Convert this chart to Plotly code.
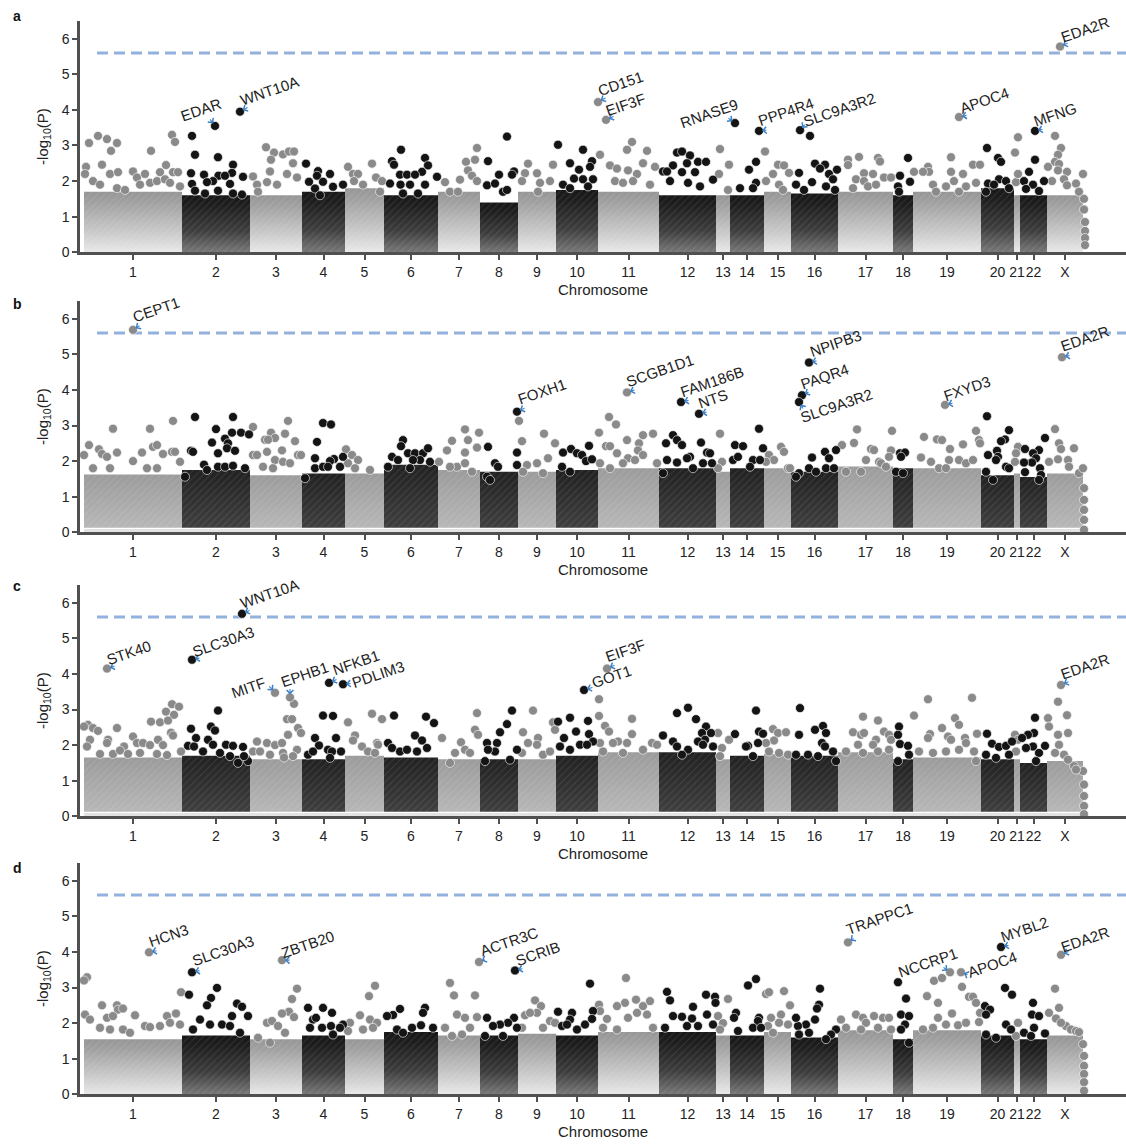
import bisect
import plotly.graph_objects as go

# ---------------------------------------------------------------- data
CHROMS = [str(i) for i in range(1, 23)] + ["X"]
GENES_PER_CHROM = [1960, 1360, 1040, 860, 780, 1080, 840, 760, 760, 840, 1220, 1140,
                   280, 680, 540, 940, 1100, 400, 1360, 660, 120, 540, 720]
THRESHOLD = 5.6

# height of the dense bulk of genes per chromosome (-log10 P)
bulk_a = [1.7, 1.6, 1.6, 1.7, 1.8, 1.6, 1.7, 1.4, 1.7, 1.75, 1.7, 1.6, 1.6, 1.6, 1.7, 1.65, 1.7, 1.6, 1.7, 1.8, 1.6, 1.6, 1.6]
bulk_b = [1.62, 1.75, 1.6, 1.65, 1.65, 1.9, 1.75, 1.7, 1.7, 1.75, 1.8, 1.8, 1.7, 1.8, 1.8, 1.7, 1.85, 1.8, 1.8, 1.6, 1.65, 1.55, 1.65]
bulk_c = [1.65, 1.7, 1.6, 1.6, 1.7, 1.65, 1.6, 1.6, 1.6, 1.7, 1.8, 1.8, 1.6, 1.7, 1.75, 1.7, 1.8, 1.6, 1.65, 1.6, 1.6, 1.5, 1.55]
bulk_d = [1.55, 1.65, 1.55, 1.65, 1.55, 1.75, 1.65, 1.65, 1.7, 1.65, 1.75, 1.75, 1.65, 1.65, 1.75, 1.6, 1.8, 1.55, 1.8, 1.65, 1.65, 1.55, 1.65]

# labelled top genes: (gene, genome-wide gene index, -log10 P)
labels_a = [("EDAR", 2620, 3.55), ("WNT10A", 3120, 3.95), ("CD151", 10280, 4.22), ("EIF3F", 10440, 3.72),
            ("RNASE9", 13020, 3.63), ("PPP4R4", 13500, 3.41), ("SLC9A3R2", 14320, 3.43), ("APOC4", 17500, 3.8),
            ("MFNG", 19020, 3.41), ("EDA2R", 19520, 5.78)]
labels_b = [("CEPT1", 980, 5.69), ("FOXH1", 8660, 3.39), ("SCGB1D1", 10860, 3.93), ("FAM186B", 11940, 3.66),
            ("NTS", 12300, 3.33), ("NPIPB3", 14500, 4.77), ("PAQR4", 14360, 3.85), ("SLC9A3R2", 14300, 3.66),
            ("FXYD3", 17220, 3.58), ("EDA2R", 19560, 4.92)]
labels_c = [("STK40", 460, 4.15), ("SLC30A3", 2160, 4.4), ("WNT10A", 3160, 5.69), ("MITF", 3820, 3.47),
            ("EPHB1", 4120, 3.34), ("NFKB1", 4900, 3.75), ("PDLIM3", 5180, 3.71), ("GOT1", 10000, 3.55),
            ("EIF3F", 10460, 4.15), ("EDA2R", 19540, 3.69)]
labels_d = [("HCN3", 1300, 3.99), ("SLC30A3", 2160, 3.43), ("ZBTB20", 3960, 3.77), ("ACTR3C", 7900, 3.72),
            ("SCRIB", 8620, 3.48), ("TRAPPC1", 15280, 4.27), ("NCCRP1", 17320, 3.43), ("APOC4", 17540, 3.43),
            ("MYBL2", 18340, 4.14), ("EDA2R", 19540, 3.92)]

# other genes rising above the bulk: (genome-wide gene index, -log10 P)
points_a = [
    (100, 3.07), (280, 3.27), (460, 3.18), (540, 2.85), (660, 3.07), (1340, 2.85), (1760, 3.3), (1820, 3.1), (40, 2.4), (20, 2.2),
    (360, 2.46), (520, 2.2), (680, 2.25), (980, 2.27), (1060, 2.1), (1220, 2.2), (1520, 2.25), (1640, 2.45), (1780, 2.25), (1880, 2.25),
    (180, 2.0), (320, 1.9), (660, 1.8), (820, 1.75), (1120, 1.9), (1320, 1.95), (1460, 2.0), (1620, 2.05), (1720, 1.95), (1920, 1.85),
    (2160, 3.27), (2220, 2.74), (2680, 2.67), (2140, 2.22), (2400, 2.18), (2980, 2.46), (2960, 2.23), (3180, 2.12), (2690, 2.15),
    (2820, 2.15), (2580, 2.0), (2460, 1.97), (2160, 1.92), (2920, 1.92), (2680, 1.73), (2220, 1.73), (2420, 1.65), (2980, 1.65), (3160, 1.62),
    (3640, 2.95), (3800, 2.8), (3980, 2.75), (4100, 2.83), (4200, 2.83), (3740, 2.6), (4180, 2.5), (3720, 2.27), (3380, 2.13),
    (3660, 1.97), (3860, 1.9), (3460, 1.9), (4060, 2.2), (4260, 2.1), (3480, 1.7),
    (4440, 2.49), (4680, 2.28), (4920, 2.2), (4660, 2.15), (4500, 1.98), (4780, 1.98), (4620, 1.79), (4980, 1.84), (5180, 1.9), (4720, 1.6),
    (5280, 2.4), (5380, 2.2), (5480, 2.2), (5760, 2.49), (5840, 2.1), (5400, 2.0), (5580, 1.9), (5960, 2.0), (5920, 1.7),
    (6340, 2.88), (6160, 2.56), (6200, 2.46), (6820, 2.65), (6880, 2.44), (6760, 2.26), (6320, 2.18), (6460, 2.18), (6620, 2.18),
    (7060, 2.12), (6120, 1.93), (6330, 1.9), (6520, 1.9), (6820, 1.9), (6380, 1.65), (6680, 1.65),
    (7860, 2.93), (7820, 2.6), (7640, 2.54), (7680, 2.3), (7520, 2.04), (7760, 2.15), (7860, 2.0), (7220, 1.97), (7320, 1.7), (7480, 1.7),
    (8460, 3.25), (8080, 2.56), (8300, 2.18), (8600, 2.27), (8560, 2.18), (8060, 1.88), (8220, 1.93), (8380, 1.7), (8460, 1.75),
    (8880, 2.49), (8820, 2.22), (9060, 2.22), (8760, 2.0), (9120, 1.95), (9320, 2.0), (9380, 2.46), (9080, 1.7),
    (9480, 3.02), (9980, 2.88), (10160, 2.56), (9720, 2.5), (9900, 2.32), (10120, 2.4), (9800, 2.07), (9980, 2.05), (10180, 2.05),
    (9580, 1.9), (9720, 1.8), (10080, 1.85),
    (10960, 3.1), (10860, 2.88), (11260, 2.85), (10320, 2.74), (10520, 2.44), (10660, 2.35), (10880, 2.3), (11060, 2.2), (11180, 2.5),
    (11420, 2.4), (10620, 2.0), (10780, 1.95), (10980, 2.0), (11320, 1.9),
    (11860, 2.8), (11960, 2.83), (12120, 2.72), (12280, 2.54), (12440, 2.54), (11780, 2.44), (11580, 2.27), (11660, 2.27), (11960, 2.25),
    (12220, 2.25), (12060, 2.5), (12580, 2.04), (11720, 2.0), (12080, 1.95), (12320, 1.85),
    (12720, 2.9), (12900, 2.46), (12700, 2.2), (12880, 1.75),
    (13440, 2.54), (13300, 2.32), (13440, 1.95), (13380, 1.8), (13120, 1.8),
    (13620, 2.83), (13880, 2.46), (14000, 2.44), (14100, 2.23), (13780, 2.2), (13640, 2.0), (13900, 1.9), (13980, 1.75),
    (14520, 3.27), (14620, 2.49), (14820, 2.46), (14720, 2.35), (15060, 2.32), (14300, 2.23), (14900, 2.2), (14980, 2.05), (14560, 1.97),
    (14240, 1.9), (14400, 1.75), (14840, 1.85), (15020, 1.75),
    (15500, 2.68), (15280, 2.6), (15880, 2.65), (15920, 2.55), (15600, 2.22), (15780, 2.2), (15280, 2.45), (15440, 2.05), (15600, 2.0),
    (16000, 2.1), (16140, 2.1), (15380, 1.8), (15680, 1.85), (15840, 1.9),
    (16480, 2.65), (16320, 2.15), (16520, 1.98), (16280, 1.85), (16300, 1.7),
    (17340, 2.67), (16880, 2.4), (16900, 2.26), (17780, 2.46), (17920, 2.46), (16780, 2.26), (17340, 2.26), (17580, 2.2), (16600, 2.26),
    (16980, 1.9), (17240, 1.85), (17400, 2.0), (17640, 1.85), (17840, 1.95), (17040, 1.7), (17500, 1.7),
    (18060, 2.93), (18280, 2.65), (18340, 2.54), (18300, 2.05), (18440, 2.0), (18080, 1.93), (18200, 1.9), (18500, 1.8), (18040, 1.7),
    (18680, 3.23), (18620, 2.8), (18640, 1.97), (18680, 2.2),
    (19020, 2.6), (18900, 2.26), (19200, 2.0), (18800, 2.0), (18980, 1.9), (18840, 1.78), (19100, 1.72),
    (19420, 3.27), (19540, 2.93), (19480, 2.74), (19420, 2.54), (19500, 2.48), (19280, 2.4), (19660, 2.26), (19480, 2.3), (19600, 2.05),
    (19980, 2.2), (19840, 1.93), (19360, 2.0), (19660, 1.88), (19900, 1.7),
    (20000, 1.5), (20000, 1.2), (20020, 0.85), (20020, 0.6), (20020, 0.4), (20020, 0.2),
]
points_b = [
    (580, 2.91), (1320, 2.91), (1780, 3.13), (100, 2.45), (300, 2.33), (360, 2.2), (460, 2.12), (660, 2.24), (0, 2.17), (980, 2.0),
    (1160, 2.24), (1380, 2.4), (1460, 2.45), (1580, 2.2), (1760, 2.26), (1820, 2.26), (1920, 1.98), (1260, 1.8), (180, 1.8), (520, 1.8), (1460, 1.8),
    (2220, 3.24), (2980, 3.24), (2640, 2.9), (2960, 2.8), (3140, 2.8), (3300, 2.75), (2820, 2.63), (2880, 2.5), (2860, 2.36), (2560, 2.52),
    (2140, 2.29), (2180, 2.26), (3020, 2.29), (2680, 2.22), (2400, 1.9), (2680, 1.84), (2820, 1.84), (2980, 1.87), (3220, 1.8), (2460, 1.75), (2020, 1.56),
    (3380, 2.96), (4080, 3.13), (3740, 2.8), (3820, 2.65), (4020, 2.77), (3620, 2.6), (3680, 2.6), (4220, 2.56), (3960, 2.3), (3660, 2.26),
    (3380, 2.17), (3460, 2.17), (4280, 2.17), (4340, 2.17), (3820, 2.03), (3980, 1.98), (4120, 1.94), (3580, 1.84), (3780, 1.8),
    (4780, 3.07), (4940, 3.03), (4660, 2.54), (4620, 2.08), (5000, 2.06), (5180, 2.12), (4920, 2.0), (4620, 1.8), (4780, 1.84), (4880, 1.84),
    (5120, 1.84), (4420, 1.52),
    (5240, 2.33), (5360, 2.17), (5480, 2.03), (5280, 1.94), (5420, 1.8), (5720, 1.75),
    (6380, 2.59), (6340, 2.42), (6160, 2.12), (6280, 2.03), (6480, 2.22), (6620, 2.22), (6780, 2.22), (6880, 2.36), (6720, 2.03), (6580, 2.03),
    (6920, 1.98), (6520, 1.8), (6080, 1.84),
    (7620, 2.89), (7900, 2.8), (7360, 2.57), (7680, 2.59), (7260, 2.3), (7620, 2.24), (7860, 2.38), (7460, 1.84), (7320, 1.84), (7620, 1.94),
    (7760, 1.7), (7100, 1.98),
    (8080, 2.4), (8660, 2.24), (8660, 1.89), (8220, 1.94), (8280, 1.84), (8060, 1.56), (8120, 1.47),
    (8700, 3.13), (8760, 2.56), (9200, 2.77), (9280, 2.08), (8860, 1.89), (9060, 1.94), (9420, 2.5), (8780, 1.7), (9180, 1.66),
    (9740, 2.34), (9580, 2.24), (10100, 2.43), (9860, 2.22), (9960, 2.17), (10040, 2.0), (10160, 2.05), (9560, 1.84), (9720, 1.7),
    (10500, 3.24), (10640, 3.03), (10300, 2.8), (11180, 2.73), (11380, 2.77), (10860, 2.59), (10440, 2.42), (10520, 2.42), (11100, 2.5),
    (10660, 2.22), (11080, 2.3), (11180, 2.17), (10880, 2.08), (11020, 2.03), (10780, 1.94), (11460, 1.94), (10320, 1.94), (10520, 1.8),
    (11780, 2.73), (11860, 2.59), (11960, 2.45), (11640, 2.5), (12340, 2.52), (12120, 2.12), (12060, 2.08), (12460, 2.24), (12520, 2.22),
    (11660, 2.03), (11860, 1.96), (12380, 1.94), (12560, 1.94), (11580, 1.66), (12180, 1.8),
    (12720, 2.77), (12760, 1.98), (12680, 1.8),
    (13020, 2.45), (13180, 2.42), (12980, 2.03), (13080, 2.12), (13500, 2.91), (13580, 2.36), (13380, 2.03), (13520, 2.03), (13320, 1.84),
    (13940, 2.4), (14000, 2.26), (13700, 2.17), (13800, 2.03), (14080, 1.8), (14120, 1.8), (13640, 1.98),
    (14820, 2.26), (15040, 2.31), (14900, 2.08), (14560, 2.1), (14500, 1.8), (14640, 1.7), (14300, 1.66), (14840, 1.8), (15000, 1.8), (14240, 1.56),
    (15460, 2.89), (15400, 2.51), (15160, 2.45), (15740, 2.34), (15800, 2.31), (15900, 1.98), (15940, 1.94), (16160, 2.85), (16140, 2.3),
    (16100, 2.12), (15640, 2.03), (15240, 1.7), (15540, 1.7), (16040, 1.84),
    (16320, 2.22), (16420, 2.24), (16340, 2.12), (16240, 1.7), (16380, 1.66),
    (16800, 2.68), (17060, 2.61), (17160, 2.59), (17840, 2.85), (17580, 2.47), (17900, 2.59), (17920, 2.5), (17320, 2.34), (16740, 2.1),
    (16940, 1.98), (17300, 2.03), (17500, 2.03), (17640, 1.94), (17780, 2.03), (17100, 1.8), (17240, 1.8),
    (18060, 3.26), (18500, 2.87), (18420, 2.61), (18340, 2.56), (18080, 2.17), (18260, 2.29), (18280, 2.12), (18240, 2.03), (18440, 1.84),
    (18500, 1.8), (18040, 1.7), (18180, 1.47),
    (18680, 2.4), (18640, 2.22), (18620, 1.98),
    (18820, 2.34), (19100, 2.31), (19220, 2.65), (18980, 2.22), (19040, 2.08), (18960, 1.96), (18800, 1.96), (18820, 1.69), (19120, 1.8),
    (19140, 1.61), (19100, 1.47),
    (19420, 2.9), (19500, 2.5), (19540, 2.34), (19800, 2.36), (19480, 2.05), (19300, 1.98), (19680, 2.03), (19700, 1.84), (19900, 1.66),
    (19980, 1.8), (20000, 1.24), (20000, 0.91), (20000, 0.63), (20000, 0.35), (20000, 0.07),
]
points_c = [
    (1760, 3.15), (1900, 3.08), (1640, 2.94), (1800, 2.85), (1340, 2.66), (1520, 2.64), (1680, 2.69), (660, 2.48), (80, 2.57), (180, 2.48),
    (280, 2.4), (0, 2.52), (1740, 2.35), (1780, 2.27), (480, 2.15), (460, 2.06), (800, 1.96), (980, 2.24), (1060, 2.06), (1180, 2.06),
    (1320, 2.0), (1480, 2.15), (1580, 2.0), (120, 2.15), (60, 1.96), (1940, 1.82), (320, 1.75), (580, 1.75), (720, 1.85), (880, 1.75),
    (1120, 1.78), (1460, 1.75), (1660, 1.72),
    (2680, 2.97), (2140, 2.46), (2540, 2.52), (2620, 2.41), (2240, 2.2), (2080, 1.98), (2200, 1.96), (2480, 2.15), (2580, 2.01), (2840, 2.01),
    (2980, 1.98), (3180, 1.95), (2380, 1.82), (2720, 1.78), (2920, 1.69), (3280, 1.55), (3200, 1.69), (3080, 1.5),
    (4200, 3.16), (4060, 2.73), (4160, 2.73), (4280, 2.48), (4340, 2.34), (4080, 2.29), (3460, 2.1), (3660, 2.06), (3820, 2.0), (3960, 2.06),
    (3380, 1.82), (3520, 1.82), (3720, 1.73), (3980, 1.78), (4260, 1.87), (4000, 1.65), (4180, 1.69),
    (4780, 2.83), (4980, 2.82), (5040, 2.2), (5140, 1.82), (4620, 2.2), (4700, 1.99), (4480, 1.73), (4580, 1.82), (4880, 1.87), (4960, 1.82), (4920, 1.64),
    (5280, 2.64), (5420, 2.27), (5380, 2.13), (5760, 2.88), (5960, 2.73), (5560, 1.96), (5680, 1.82), (5860, 2.06), (5880, 2.01), (5820, 1.78),
    (6200, 2.83), (6840, 2.8), (7000, 2.62), (6620, 2.27), (6760, 2.13), (6080, 2.06), (6160, 1.92), (6320, 1.82), (6460, 1.87), (6660, 1.82), (6860, 1.92),
    (7860, 2.9), (7820, 2.43), (7880, 2.29), (7540, 2.08), (7160, 2.2), (7420, 1.78), (7620, 1.87), (7720, 1.78), (7320, 1.5),
    (8560, 2.97), (8460, 2.59), (8320, 2.36), (8060, 2.06), (8260, 2.06), (8220, 1.82), (8080, 1.87), (8660, 1.87), (8520, 1.59), (8020, 1.55),
    (8980, 2.97), (8780, 2.36), (9080, 2.2), (8880, 2.06), (9060, 2.01), (9380, 2.64), (9420, 2.43), (8760, 1.78), (9180, 1.73), (9320, 1.82),
    (9480, 2.66), (9720, 2.77), (10080, 2.68), (9840, 2.38), (10100, 2.31), (9600, 2.2), (10180, 2.1), (9920, 2.01), (10060, 2.01), (9520, 1.96), (9720, 1.87),
    (10300, 3.29), (10300, 2.82), (10960, 2.74), (10420, 2.54), (10500, 2.38), (10960, 2.31), (10680, 2.1), (10860, 2.06), (10580, 2.06),
    (10380, 1.82), (10780, 1.78), (11180, 1.87), (11360, 2.06), (11460, 2.01), (10320, 2.06),
    (12080, 3.05), (11860, 2.9), (12240, 2.73), (12440, 2.52), (11580, 2.27), (12360, 2.34), (12540, 2.34), (12420, 2.15), (12280, 2.1),
    (12380, 2.01), (11780, 2.1), (12080, 1.87), (11960, 1.73), (11860, 1.96), (12580, 1.96),
    (12680, 2.34), (12760, 1.92), (12720, 1.69), (12900, 2.15),
    (13020, 2.31), (13280, 1.98), (13440, 2.97), (13500, 2.38), (13580, 2.32), (13480, 2.06), (13240, 1.96), (13380, 1.69),
    (13780, 2.45), (13880, 2.34), (14040, 2.36), (13800, 2.13), (13640, 2.06), (13700, 1.82), (13900, 1.78), (14080, 1.73),
    (14320, 3.04), (14300, 2.29), (14780, 2.54), (14620, 2.43), (14840, 2.34), (14760, 2.06), (14820, 1.96), (14980, 1.82), (15040, 1.55),
    (14240, 1.73), (14480, 1.73), (14680, 1.69),
    (15580, 2.8), (15880, 2.69), (15380, 2.36), (16000, 2.38), (15540, 2.29), (15600, 2.34), (15840, 2.15), (16100, 2.29), (16140, 2.15),
    (15480, 2.01), (15780, 2.01), (15240, 1.82), (15580, 1.78), (15880, 1.82), (16100, 1.87),
    (16300, 2.52), (16280, 2.29), (16320, 2.03), (16480, 1.98), (16500, 1.73), (16280, 1.55),
    (16880, 3.29), (17760, 3.33), (16600, 2.83), (17420, 2.76), (17500, 2.57), (17160, 2.48), (16920, 2.31), (16880, 2.2), (17280, 2.24),
    (17340, 2.15), (17620, 2.2), (17640, 2.06), (17860, 2.32), (16700, 1.82), (16980, 1.78), (17240, 1.82), (17500, 1.87), (17800, 1.82), (17840, 1.55),
    (18060, 2.32), (18160, 2.04), (18300, 1.95), (18440, 1.98), (18560, 2.1), (18040, 1.73), (18240, 1.64), (18500, 1.73),
    (18620, 2.29), (18680, 2.15), (18640, 1.82),
    (19020, 2.77), (19000, 2.34), (18880, 2.29), (18760, 2.2), (18980, 1.96), (18840, 1.92), (19220, 1.98), (19100, 1.78), (19040, 1.55),
    (19480, 3.22), (19660, 2.84), (19280, 2.76), (19300, 2.52), (19680, 2.34), (19480, 2.29), (19500, 2.01), (19600, 1.73), (19800, 1.41),
    (19980, 1.27), (19420, 1.78), (19680, 1.59), (19840, 1.31), (20000, 0.89), (20000, 0.57), (20000, 0.29), (20000, 0.06),
]
points_d = [
    (60, 3.29), (0, 3.2), (1940, 2.87), (360, 2.5), (660, 2.5), (680, 2.38), (1020, 2.22), (20, 2.24), (120, 2.1), (460, 2.15), (580, 2.2),
    (780, 2.41), (1840, 2.27), (1660, 2.2), (1720, 2.01), (1220, 1.92), (1320, 1.89), (1520, 1.92), (320, 1.87), (520, 1.82), (780, 1.82),
    (920, 1.73), (1920, 1.96),
    (2100, 2.8), (2660, 2.99), (2540, 2.71), (2460, 2.5), (3060, 2.55), (3160, 2.46), (2320, 2.1), (2760, 1.96), (2960, 2.2), (3280, 2.2),
    (2180, 1.82), (2520, 1.96), (2920, 1.92), (3120, 1.73),
    (4260, 2.97), (4160, 2.68), (4100, 2.32), (3960, 2.27), (4200, 2.17), (3660, 2.01), (3760, 2.06), (3480, 1.59), (3720, 1.45), (3880, 1.92), (4020, 1.73),
    (4480, 2.43), (4780, 2.43), (4960, 2.29), (4580, 2.1), (4640, 2.15), (5180, 1.96), (4940, 1.92), (5120, 1.87), (4520, 1.87), (4760, 1.87), (4980, 1.68),
    (5820, 3.05), (5700, 2.76), (5520, 2.22), (5720, 2.1), (5320, 2.01), (5280, 1.78), (5860, 2.01), (5580, 1.82), (5780, 1.87),
    (6320, 2.4), (6180, 2.23), (6820, 2.43), (6780, 2.29), (6060, 2.2), (6260, 1.82), (6560, 1.87), (6740, 1.94), (6980, 1.87), (6380, 1.73),
    (7320, 3.13), (7400, 2.78), (7820, 2.78), (7460, 2.24), (7620, 2.15), (7860, 2.17), (7220, 1.87), (7720, 1.87), (7360, 1.64), (7560, 1.68),
    (8060, 2.15), (8600, 2.15), (8480, 2.01), (8320, 1.96), (8180, 1.92), (8660, 1.87), (8380, 1.64), (8020, 1.64),
    (9020, 2.64), (9140, 2.48), (9060, 2.29), (8820, 2.22), (8920, 2.29), (9320, 2.06), (9420, 2.01), (8760, 1.87), (9180, 1.87),
    (10120, 3.11), (9480, 2.32), (9760, 2.29), (9720, 2.1), (10180, 2.34), (10160, 2.12), (10020, 1.96), (9560, 1.92), (9660, 1.96), (9860, 1.82),
    (10840, 3.27), (10820, 2.57), (11040, 2.66), (10660, 2.48), (10300, 2.52), (11180, 2.48), (11320, 2.62), (10460, 2.12), (10880, 2.15),
    (11060, 2.29), (11260, 2.24), (10380, 1.87), (10660, 1.82), (11380, 1.87), (10320, 2.34),
    (11660, 2.88), (11720, 2.64), (12440, 2.8), (12620, 2.74), (12630, 2.57), (12180, 2.46), (11780, 2.2), (11960, 2.18), (12160, 2.13),
    (12460, 2.24), (12580, 1.96), (11620, 1.87), (12060, 1.92), (12280, 1.92),
    (12680, 2.2), (12880, 2.68), (12780, 2.0), (12720, 1.82),
    (13280, 3.06), (13440, 3.24), (13040, 2.29), (13000, 2.15), (13080, 1.78), (13500, 2.15), (13480, 2.06), (13380, 1.87), (13540, 1.87),
    (13640, 2.82), (13700, 2.87), (14000, 2.9), (13940, 2.24), (13740, 2.15), (13900, 2.01), (14080, 1.96), (13680, 1.92), (13780, 1.73), (14120, 2.5),
    (14720, 2.97), (14700, 2.52), (14660, 2.41), (14620, 2.1), (14440, 1.96), (14280, 1.92), (14300, 1.68), (14500, 1.73), (15040, 1.82),
    (14940, 1.68), (14840, 1.55), (14240, 2.15),
    (15140, 2.1), (15440, 2.24), (15580, 2.15), (15640, 2.01), (15800, 2.2), (15980, 2.15), (16100, 2.15), (15240, 1.87), (15540, 1.82),
    (15880, 1.87), (16140, 1.82),
    (16280, 3.15), (16440, 2.69), (16340, 2.24), (16500, 2.2), (16420, 1.96), (16340, 1.82), (16500, 1.45),
    (17000, 3.19), (17160, 3.27), (17560, 3.02), (16860, 2.76), (17080, 2.57), (17700, 2.74), (17780, 2.74), (17840, 2.57), (17080, 2.15),
    (17360, 2.27), (17480, 1.94), (17640, 2.01), (16780, 1.82), (16980, 1.87), (17240, 1.96), (17900, 2.03), (17920, 2.29),
    (18420, 2.99), (18560, 2.8), (18020, 2.48), (18120, 2.38), (18040, 2.24), (18440, 1.96), (18540, 1.82), (18040, 1.68), (18240, 1.59),
    (18680, 2.01), (18640, 1.64),
    (18980, 2.57), (18960, 2.24), (19100, 2.2), (19000, 1.87), (18800, 1.73), (18940, 1.64), (19220, 1.71),
    (19420, 2.97), (19500, 2.43), (19300, 2.29), (19440, 2.13), (19640, 1.92), (19740, 1.82), (19840, 1.78), (19900, 1.75), (19540, 2.01),
    (19980, 1.41), (20000, 1.08), (20000, 0.8), (20000, 0.57), (20000, 0.34), (20000, 0.1),
]

# ---------------------------------------------------------------- styles / layout
W, H = 1126, 1147
FONT = "Liberation Sans, Arial, Helvetica, sans-serif"
GRAY, BLACK = "#8a8a8a", "#141414"
AXIS_COL = "#505050"
ARROW_COL = "#3a80c8"
THR_COL = "#93b1dd"
UNIT_PX = 35.83
YMAX = 6.5
ZERO_PX = [254, 536, 822, 1102]
LETTER_PX = [16, 306, 590, 874]
X_RANGE = [-80, 20840]
X_DOMAIN = [80 / W, 1.0]

PANELS = [
    ("a", bulk_a, points_a, labels_a),
    ("b", bulk_b, points_b, labels_b),
    ("c", bulk_c, points_c, labels_c),
    ("d", bulk_d, points_d, labels_d),
]
BULK_FLOOR = {"a": 0.0, "b": 0.13, "c": 0.13, "d": 0.0}
GRAD = {
    "a": ([[0, "#ebebeb"], [0.4, "#c6c6c6"], [0.85, "#a0a0a0"], [1, "#979797"]],
          [[0, "#7c7c7c"], [0.4, "#3e3e3e"], [0.85, "#1e1e1e"], [1, "#181818"]]),
    "b": ([[0, "#b8b8b8"], [1, "#9c9c9c"]], [[0, "#404040"], [1, "#222222"]]),
    "c": ([[0, "#b8b8b8"], [1, "#9c9c9c"]], [[0, "#404040"], [1, "#222222"]]),
    "d": ([[0, "#ebebeb"], [0.4, "#c6c6c6"], [0.85, "#a0a0a0"], [1, "#979797"]],
          [[0, "#7c7c7c"], [0.4, "#3e3e3e"], [0.85, "#1e1e1e"], [1, "#181818"]]),
}
# label placement: side, text offset (px), arrow tail offset (px)
LABEL_POS = {
    "a": {"EDAR": ("l", 8, -18, -6, -8), "WNT10A": ("r", 3, -6, 9, -5), "CD151": ("r", 2, -6, 9, -5),
          "EIF3F": ("r", 2, -4, 9, -4), "RNASE9": ("l", 4, -14, -8, -6), "PPP4R4": ("r", 2, -5, 9, -1),
          "SLC9A3R2": ("r", 6, -3, 6, -7), "APOC4": ("r", 3, -3, 9, -2), "MFNG": ("r", 1, -4, 9, -2),
          "EDA2R": ("r", 3, -4, 9, -4)},
    "b": {"CEPT1": ("r", 2, -7, 8, -5), "FOXH1": ("r", 3, -7, 9, -4), "SCGB1D1": ("r", 2, -5, 9, -3),
          "FAM186B": ("r", 2, -5, 9, -2), "NTS": ("r", 2, -5, 9, -2), "NPIPB3": ("r", 3, -5, 9, -2),
          "PAQR4": ("r", 1, -5, 8, -4), "SLC9A3R2": ("r", 4, 21, 5, 8), "FXYD3": ("r", 1, -3, 9, -2),
          "EDA2R": ("r", 1, -5, 9, -2)},
    "c": {"STK40": ("r", 2, -3, 9, -3), "SLC30A3": ("r", 3, -3, 9, -2), "WNT10A": ("r", 1, -5, 9, -4),
          "MITF": ("l", -8, -5, -7, -8), "EPHB1": ("r", -7, -10, 0, -10), "NFKB1": ("r", 6, -7, 9, -4),
          "PDLIM3": ("r", 11, 4, 9, -1), "GOT1": ("r", 10, -2, 10, -3), "EIF3F": ("r", 1, -6, 9, -4),
          "EDA2R": ("r", 2, -5, 9, -4)},
    "d": {"HCN3": ("r", 2, -5, 9, -2), "SLC30A3": ("r", 3, -6, 9, -2), "ZBTB20": ("r", 1, -2, 9, 0),
          "ACTR3C": ("r", 4, -6, 7, -3), "SCRIB": ("r", 3, -4, 9, -2), "TRAPPC1": ("r", 1, -7, 7, -5),
          "NCCRP1": ("l", 9, -14, -8, -6), "APOC4": ("r", 9, 6, 8, 3), "MYBL2": ("r", 2, -4, 9, -2),
          "EDA2R": ("r", 2, -2, 9, -4)},
}
ANGLE = -19

# ---------------------------------------------------------------- build
starts = [0]
for n in GENES_PER_CHROM:
    starts.append(starts[-1] + n)
centers = [(starts[i] + starts[i + 1]) / 2 for i in range(len(CHROMS))]


def chrom_index(g):
    return min(max(bisect.bisect_right(starts, g) - 1, 0), len(CHROMS) - 1)


fig = go.Figure()
annotations = []
shapes = []

for pi, (pname, bulk, pts, labs) in enumerate(PANELS):
    n = pi + 1
    xa = "x" if n == 1 else f"x{n}"
    ya = "y" if n == 1 else f"y{n}"
    floor = BULK_FLOOR[pname]
    g_gray, g_black = GRAD[pname]

    # dense bulk of genes (gradient + white speckle texture)
    for ci in range(len(CHROMS)):
        s, e, h = starts[ci], starts[ci + 1], bulk[ci]
        xs, ys = [s, s, e, e, s], [floor, h, h, floor, floor]
        fig.add_trace(go.Scatter(
            x=xs, y=ys, mode="lines", line=dict(width=0), fill="toself",
            fillgradient=dict(type="vertical", colorscale=(g_black if ci % 2 else g_gray), start=floor, stop=h),
            hoverinfo="skip", showlegend=False, xaxis=xa, yaxis=ya))
        fig.add_trace(go.Scatter(
            x=xs, y=ys, mode="lines", line=dict(width=0), fill="toself", fillcolor="rgba(0,0,0,0)",
            fillpattern=dict(shape="/", fgcolor="rgba(255,255,255,0.22)", bgcolor="rgba(0,0,0,0)",
                             size=5, solidity=0.18, fillmode="overlay"),
            hoverinfo="skip", showlegend=False, xaxis=xa, yaxis=ya))

    allpts = list(pts) + [(g, v) for (_, g, v) in labs]
    for odd, col in ((0, GRAY), (1, BLACK)):
        sel = [(g, v) for (g, v) in allpts if chrom_index(g) % 2 == odd]
        fig.add_trace(go.Scatter(
            x=[g for g, _ in sel], y=[v for _, v in sel], mode="markers",
            marker=dict(size=9, color=col, line=dict(color="white", width=0.6)),
            hoverinfo="skip", showlegend=False, xaxis=xa, yaxis=ya))

    if floor > 0:
        shapes.append(dict(type="rect", xref=xa, yref=ya, x0=starts[0], x1=starts[-1], y0=0, y1=0.09,
                           fillcolor="#e2e2e2", line=dict(width=0), layer="below"))
    shapes.append(dict(type="line", xref=xa, yref=ya, x0=260, x1=X_RANGE[1], y0=THRESHOLD, y1=THRESHOLD,
                       line=dict(color=THR_COL, width=3, dash="11px,6px"), layer="below"))

    for (gene, g, v) in labs:
        side, ox, oy, tx, ty = LABEL_POS[pname][gene]
        annotations.append(dict(x=g, y=v, xref=xa, yref=ya, text="", showarrow=True, ax=tx, ay=ty,
                                arrowhead=4, arrowsize=1.2, arrowwidth=1.1, arrowcolor=ARROW_COL, standoff=3))
        if side == "r":
            annotations.append(dict(x=g, y=v, xref=xa, yref=ya, text=gene, showarrow=False, textangle=ANGLE,
                                    xanchor="left", yanchor="bottom", xshift=ox - 7.3, yshift=-(oy + 5.4),
                                    font=dict(family=FONT, size=15, color="#222222")))
        else:
            annotations.append(dict(x=g, y=v, xref=xa, yref=ya, text=gene, showarrow=False, textangle=ANGLE,
                                    xanchor="right", yanchor="top", xshift=ox + 3.5, yshift=-(oy - 16.2),
                                    font=dict(family=FONT, size=15, color="#222222")))

    annotations.append(dict(x=17 / W, y=1 - LETTER_PX[pi] / H, xref="paper", yref="paper", text=f"<b>{pname}</b>",
                            showarrow=False, xanchor="center", yanchor="middle",
                            font=dict(family=FONT, size=14, color="#111111")))

    y0 = 1 - ZERO_PX[pi] / H
    y1 = 1 - (ZERO_PX[pi] - YMAX * UNIT_PX) / H
    xkey = "xaxis" if n == 1 else f"xaxis{n}"
    ykey = "yaxis" if n == 1 else f"yaxis{n}"
    fig.update_layout(**{
        xkey: dict(domain=X_DOMAIN, range=X_RANGE, anchor=ya, showline=True, linecolor=AXIS_COL, linewidth=2.5,
                   ticks="outside", ticklen=5, tickwidth=1.5, tickcolor=AXIS_COL, tickvals=centers, ticktext=CHROMS,
                   tickangle=0, tickfont=dict(family=FONT, size=14, color="#222222"), showgrid=False, zeroline=False,
                   title=dict(text="Chromosome", font=dict(family=FONT, size=15, color="#222222"), standoff=6)),
        ykey: dict(domain=[y0, y1], range=[0, YMAX], anchor=xa, showline=True, linecolor=AXIS_COL, linewidth=2.5,
                   ticks="outside", ticklen=5, tickwidth=1.5, tickcolor=AXIS_COL, tickvals=[0, 1, 2, 3, 4, 5, 6],
                   tickfont=dict(family=FONT, size=14, color="#222222"), showgrid=False, zeroline=False,
                   title=dict(text="-log<sub>10</sub>(P)", font=dict(family=FONT, size=15, color="#222222"), standoff=10)),
    })

fig.update_layout(width=W, height=H, margin=dict(l=0, r=0, t=0, b=0), paper_bgcolor="white",
                  plot_bgcolor="white", showlegend=False, annotations=annotations, shapes=shapes,
                  font=dict(family=FONT))
fig.write_html("out.html")
